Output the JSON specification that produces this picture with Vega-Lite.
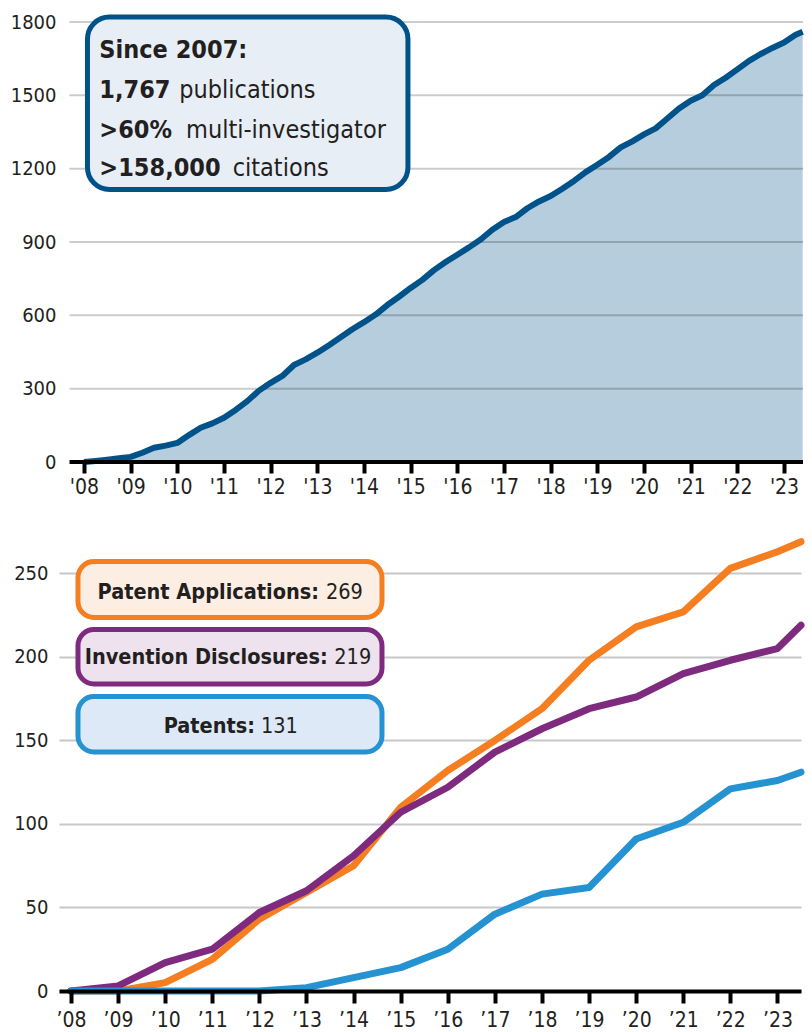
{
  "$schema": "https://vega.github.io/schema/vega-lite/v6.json",
  "padding": {"left": 10, "top": 12, "right": 0, "bottom": 0},
  "background": "white",
  "config": {
    "font": "DejaVu Sans Condensed, Roboto, sans-serif",
    "view": {"stroke": null},
    "axis": {"title": null, "labelColor": "#231f20", "labelFont": "DejaVu Sans Condensed, Roboto, sans-serif"}
  },
  "datasets": {
    "pubs": [
      {"year": 2008.0, "count": 0}, {"year": 2008.25, "count": 4}, {"year": 2008.5, "count": 9}, {"year": 2008.75, "count": 15},
      {"year": 2009.0, "count": 21}, {"year": 2009.25, "count": 38}, {"year": 2009.5, "count": 58}, {"year": 2009.75, "count": 67},
      {"year": 2010.0, "count": 78}, {"year": 2010.25, "count": 110}, {"year": 2010.5, "count": 140}, {"year": 2010.75, "count": 158},
      {"year": 2011.0, "count": 181}, {"year": 2011.25, "count": 213}, {"year": 2011.5, "count": 249}, {"year": 2011.75, "count": 292},
      {"year": 2012.0, "count": 324}, {"year": 2012.25, "count": 352}, {"year": 2012.5, "count": 397}, {"year": 2012.75, "count": 420},
      {"year": 2013.0, "count": 447}, {"year": 2013.25, "count": 478}, {"year": 2013.5, "count": 510}, {"year": 2013.75, "count": 543},
      {"year": 2014.0, "count": 572}, {"year": 2014.25, "count": 603}, {"year": 2014.5, "count": 642}, {"year": 2014.75, "count": 676},
      {"year": 2015.0, "count": 712}, {"year": 2015.25, "count": 745}, {"year": 2015.5, "count": 785}, {"year": 2015.75, "count": 818},
      {"year": 2016.0, "count": 848}, {"year": 2016.25, "count": 878}, {"year": 2016.5, "count": 910}, {"year": 2016.75, "count": 950},
      {"year": 2017.0, "count": 982}, {"year": 2017.25, "count": 1002}, {"year": 2017.5, "count": 1038}, {"year": 2017.75, "count": 1066},
      {"year": 2018.0, "count": 1088}, {"year": 2018.25, "count": 1118}, {"year": 2018.5, "count": 1150}, {"year": 2018.75, "count": 1186},
      {"year": 2019.0, "count": 1216}, {"year": 2019.25, "count": 1248}, {"year": 2019.5, "count": 1287}, {"year": 2019.75, "count": 1312},
      {"year": 2020.0, "count": 1340}, {"year": 2020.25, "count": 1365}, {"year": 2020.5, "count": 1405}, {"year": 2020.75, "count": 1446},
      {"year": 2021.0, "count": 1478}, {"year": 2021.25, "count": 1500}, {"year": 2021.5, "count": 1542}, {"year": 2021.75, "count": 1572},
      {"year": 2022.0, "count": 1606}, {"year": 2022.25, "count": 1641}, {"year": 2022.5, "count": 1669}, {"year": 2022.75, "count": 1694},
      {"year": 2023.0, "count": 1716}, {"year": 2023.25, "count": 1748}, {"year": 2023.4, "count": 1760}
    ],
    "ip": [
      {"year": 2008, "apps": 0, "disc": 0, "pat": 0},
      {"year": 2009, "apps": 0, "disc": 3, "pat": 0},
      {"year": 2010, "apps": 5, "disc": 17, "pat": 0},
      {"year": 2011, "apps": 19, "disc": 25, "pat": 0},
      {"year": 2012, "apps": 43, "disc": 47, "pat": 0},
      {"year": 2013, "apps": 59, "disc": 60, "pat": 2},
      {"year": 2014, "apps": 75, "disc": 81, "pat": 8},
      {"year": 2015, "apps": 110, "disc": 107, "pat": 14},
      {"year": 2016, "apps": 132, "disc": 122, "pat": 25},
      {"year": 2017, "apps": 150, "disc": 143, "pat": 46},
      {"year": 2018, "apps": 169, "disc": 157, "pat": 58},
      {"year": 2019, "apps": 198, "disc": 169, "pat": 62},
      {"year": 2020, "apps": 218, "disc": 176, "pat": 91},
      {"year": 2021, "apps": 227, "disc": 190, "pat": 101},
      {"year": 2022, "apps": 253, "disc": 198, "pat": 121},
      {"year": 2023, "apps": 263, "disc": 205, "pat": 126},
      {"year": 2023.5, "apps": 269, "disc": 219, "pat": 131}
    ],
    "topgrid": [{"v": 300}, {"v": 600}, {"v": 900}, {"v": 1200}, {"v": 1500}, {"v": 1800}],
    "one": [{}]
  },
  "vconcat": [
    {
      "width": 744,
      "height": 440,
      "layer": [
        {
          "data": {"name": "pubs"},
          "mark": {"type": "area", "color": "#b5cddd"},
          "encoding": {
            "x": {"field": "year", "type": "quantitative",
              "scale": {"domain": [2007.465, 2023.407], "nice": false, "zero": false},
              "axis": {"values": [2008,2009,2010,2011,2012,2013,2014,2015,2016,2017,2018,2019,2020,2021,2022,2023],
                "labelExpr": "\"'\" + substring(toString(datum.value), 2)",
                "domain": false, "grid": false, "tickColor": "#000", "tickWidth": 4, "tickSize": 11,
                "labelFontSize": 21, "labelPadding": 3, "zindex": 1}},
            "y": {"field": "count", "type": "quantitative",
              "scale": {"domain": [0, 1800], "nice": false},
              "axis": {"values": [0,300,600,900,1200,1500,1800], "format": "d", "grid": false, "domain": false, "ticks": false,
                "labelFontSize": 20, "labelPadding": 3}}
          }
        },
        {
          "data": {"name": "topgrid"},
          "mark": {"type": "rule", "color": "#000", "opacity": 0.2, "strokeWidth": 2},
          "encoding": {"y": {"field": "v", "type": "quantitative"}, "x": {"datum": 2007.69}, "x2": {"datum": 2023.407}}
        },
        {
          "data": {"name": "pubs"},
          "mark": {"type": "line", "color": "#00538a", "strokeWidth": 6, "strokeJoin": "round"},
          "encoding": {"x": {"field": "year", "type": "quantitative"}, "y": {"field": "count", "type": "quantitative"}}
        },
        {
          "data": {"name": "one"},
          "mark": {"type": "rule", "color": "#000", "strokeWidth": 4},
          "encoding": {"y": {"datum": 0}, "x": {"datum": 2007.69}, "x2": {"datum": 2023.407}}
        },
        {
          "data": {"name": "one"},
          "mark": {"type": "rect", "fill": "#e8eef6", "stroke": "#00538a", "strokeWidth": 5, "cornerRadius": 22},
          "encoding": {"x": {"datum": 2008.075}, "x2": {"datum": 2014.942}, "y": {"datum": 1820.5}, "y2": {"datum": 1114.8}}
        },
        {
          "data": {"name": "one"},
          "mark": {"type": "text", "text": "Since 2007:", "fontSize": 25, "fontWeight": "bold", "align": "left", "baseline": "alphabetic", "color": "#231f20"},
          "encoding": {"x": {"datum": 2008.33}, "y": {"datum": 1654}}
        },
        {
          "data": {"name": "one"},
          "mark": {"type": "text", "text": "1,767", "fontSize": 25, "fontWeight": "bold", "align": "left", "baseline": "alphabetic", "color": "#231f20"},
          "encoding": {"x": {"datum": 2008.33}, "y": {"datum": 1490}}
        },
        {
          "data": {"name": "one"},
          "mark": {"type": "text", "text": "publications", "fontSize": 25, "align": "left", "baseline": "alphabetic", "color": "#231f20"},
          "encoding": {"x": {"datum": 2010.042}, "y": {"datum": 1490}}
        },
        {
          "data": {"name": "one"},
          "mark": {"type": "text", "text": ">60%", "fontSize": 25, "fontWeight": "bold", "align": "left", "baseline": "alphabetic", "color": "#231f20"},
          "encoding": {"x": {"datum": 2008.33}, "y": {"datum": 1326}}
        },
        {
          "data": {"name": "one"},
          "mark": {"type": "text", "text": "multi-investigator", "fontSize": 25, "align": "left", "baseline": "alphabetic", "color": "#231f20"},
          "encoding": {"x": {"datum": 2010.186}, "y": {"datum": 1326}}
        },
        {
          "data": {"name": "one"},
          "mark": {"type": "text", "text": ">158,000", "fontSize": 25, "fontWeight": "bold", "align": "left", "baseline": "alphabetic", "color": "#231f20"},
          "encoding": {"x": {"datum": 2008.33}, "y": {"datum": 1171}}
        },
        {
          "data": {"name": "one"},
          "mark": {"type": "text", "text": "citations", "fontSize": 25, "align": "left", "baseline": "alphabetic", "color": "#231f20"},
          "encoding": {"x": {"datum": 2011.186}, "y": {"datum": 1171}}
        }
      ]
    },
    {
      "width": 742,
      "height": 451,
      "layer": [
        {
          "data": {"name": "ip"},
          "mark": {"type": "line", "color": "#f47e20", "strokeWidth": 7, "strokeCap": "round", "strokeJoin": "round"},
          "encoding": {
            "x": {"field": "year", "type": "quantitative",
              "scale": {"domain": [2007.745, 2023.5], "nice": false, "zero": false},
              "axis": {"values": [2008,2009,2010,2011,2012,2013,2014,2015,2016,2017,2018,2019,2020,2021,2022,2023],
                "labelExpr": "'\u2019' + substring(toString(datum.value), 2)",
                "domain": true, "domainColor": "#000", "domainWidth": 4, "grid": false,
                "tickColor": "#000", "tickWidth": 4, "tickSize": 12,
                "labelFontSize": 21, "labelPadding": 6, "zindex": 1}},
            "y": {"field": "apps", "type": "quantitative",
              "scale": {"domain": [0, 270], "nice": false},
              "axis": {"values": [0,50,100,150,200,250], "grid": true, "gridColor": "#c8c8ca", "gridWidth": 2,
                "domain": false, "ticks": false, "labelFontSize": 20, "labelPadding": 11}}
          }
        },
        {
          "data": {"name": "ip"},
          "mark": {"type": "line", "color": "#7e2a7e", "strokeWidth": 7, "strokeCap": "round", "strokeJoin": "round"},
          "encoding": {"x": {"field": "year", "type": "quantitative"}, "y": {"field": "disc", "type": "quantitative"}}
        },
        {
          "data": {"name": "ip"},
          "mark": {"type": "line", "color": "#2592d2", "strokeWidth": 7, "strokeCap": "round", "strokeJoin": "round"},
          "encoding": {"x": {"field": "year", "type": "quantitative"}, "y": {"field": "pat", "type": "quantitative"}}
        },
        {
          "data": {"name": "one"},
          "mark": {"type": "rect", "fill": "#fdeee3", "stroke": "#f47e20", "strokeWidth": 5, "cornerRadius": 16},
          "encoding": {"x": {"datum": 2008.148}, "x2": {"datum": 2014.603}, "y": {"datum": 257.1}, "y2": {"datum": 223.6}}
        },
        {
          "data": {"name": "one"},
          "mark": {"type": "rect", "fill": "#ede2ed", "stroke": "#7e2a7e", "strokeWidth": 5, "cornerRadius": 16},
          "encoding": {"x": {"datum": 2008.148}, "x2": {"datum": 2014.603}, "y": {"datum": 216.4}, "y2": {"datum": 183.8}}
        },
        {
          "data": {"name": "one"},
          "mark": {"type": "rect", "fill": "#dde9f7", "stroke": "#2592d2", "strokeWidth": 5, "cornerRadius": 16},
          "encoding": {"x": {"datum": 2008.148}, "x2": {"datum": 2014.603}, "y": {"datum": 176.3}, "y2": {"datum": 143.1}}
        },
        {
          "data": {"name": "one"},
          "mark": {"type": "text", "text": "Patent Applications:", "fontSize": 21.5, "fontWeight": "bold", "align": "right", "baseline": "alphabetic", "color": "#231f20"},
          "encoding": {"x": {"datum": 2013.265}, "y": {"datum": 234.4}}
        },
        {
          "data": {"name": "one"},
          "mark": {"type": "text", "text": "269", "fontSize": 21.5, "align": "left", "baseline": "alphabetic", "color": "#231f20"},
          "encoding": {"x": {"datum": 2013.414}, "y": {"datum": 234.4}}
        },
        {
          "data": {"name": "one"},
          "mark": {"type": "text", "text": "Invention Disclosures:", "fontSize": 21.5, "fontWeight": "bold", "align": "right", "baseline": "alphabetic", "color": "#231f20"},
          "encoding": {"x": {"datum": 2013.45}, "y": {"datum": 195.5}}
        },
        {
          "data": {"name": "one"},
          "mark": {"type": "text", "text": "219", "fontSize": 21.5, "align": "left", "baseline": "alphabetic", "color": "#231f20"},
          "encoding": {"x": {"datum": 2013.59}, "y": {"datum": 195.5}}
        },
        {
          "data": {"name": "one"},
          "mark": {"type": "text", "text": "Patents:", "fontSize": 21.5, "fontWeight": "bold", "align": "right", "baseline": "alphabetic", "color": "#231f20"},
          "encoding": {"x": {"datum": 2011.906}, "y": {"datum": 154.6}}
        },
        {
          "data": {"name": "one"},
          "mark": {"type": "text", "text": "131", "fontSize": 21.5, "align": "left", "baseline": "alphabetic", "color": "#231f20"},
          "encoding": {"x": {"datum": 2012.033}, "y": {"datum": 154.6}}
        }
      ]
    }
  ],
  "bounds": "flush",
  "spacing": 78
}
